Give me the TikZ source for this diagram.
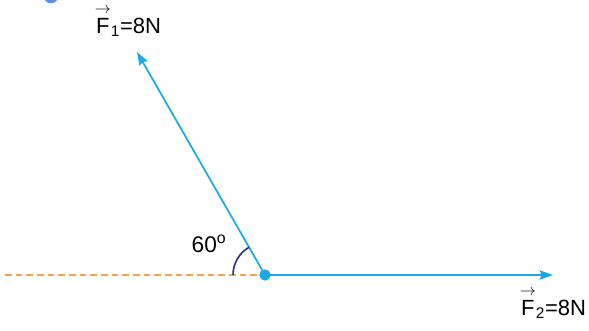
\documentclass[tikz,border=0pt]{standalone}
\usepackage{amsmath}
\usepackage{fontspec}
\setmainfont{Liberation Sans}
\usetikzlibrary{arrows.meta, positioning}
\definecolor{forceBlue}{HTML}{1CA9E6}
\definecolor{lineOrange}{HTML}{F5A54E}
\definecolor{arcNavy}{HTML}{2B2E8C}
\definecolor{dotBlue}{HTML}{5B8FE6}
\newcommand{\vecF}[1]{$\overset{\rightarrow}{\text{F}}_{\text{#1}}$}

\begin{document}
\begin{tikzpicture}[
    x=0.75pt, y=-0.75pt,
    force/.style={
        draw=forceBlue,
        line width=1.3pt,
        -{Stealth[length=10pt, width=7pt, inset=1.5pt]}
    },
    label/.style={
        font=\fontsize{16.5}{19}\selectfont,
        inner sep=0pt
    }
]
\useasboundingbox (0,0) rectangle (589,331);

% Punkt und Hilfslinie
\node[circle, fill=forceBlue, inner sep=0pt, minimum size=8.5pt] (o) at (265,275) {};
\coordinate (w) at (5,275);
\draw[lineOrange, line width=1pt, dash pattern=on 5pt off 3pt] (w) -- (o);
\fill[dotBlue] (51,-4) circle (5.5pt);

% Kraefte
\coordinate (f1) at (137,52);
\coordinate (f2) at (553,275);
\draw[force] (o.center) -- (f1);
\draw[force] (o.center) -- (f2);

% Winkel
\draw[arcNavy, line width=1.2pt] (o.center) ++(180:32) arc[start angle=180, end angle=240, radius=32];

% Beschriftungen
\node[label] (l1) at (128,21) {\vecF{1}=8N};
\node[label] (l2) at (553,303) {\vecF{2}=8N};
\node[label, font=\fontsize{17}{20}\selectfont] (a) at (209,244) {60$^{\text{o}}$};

\end{tikzpicture}
\end{document}
